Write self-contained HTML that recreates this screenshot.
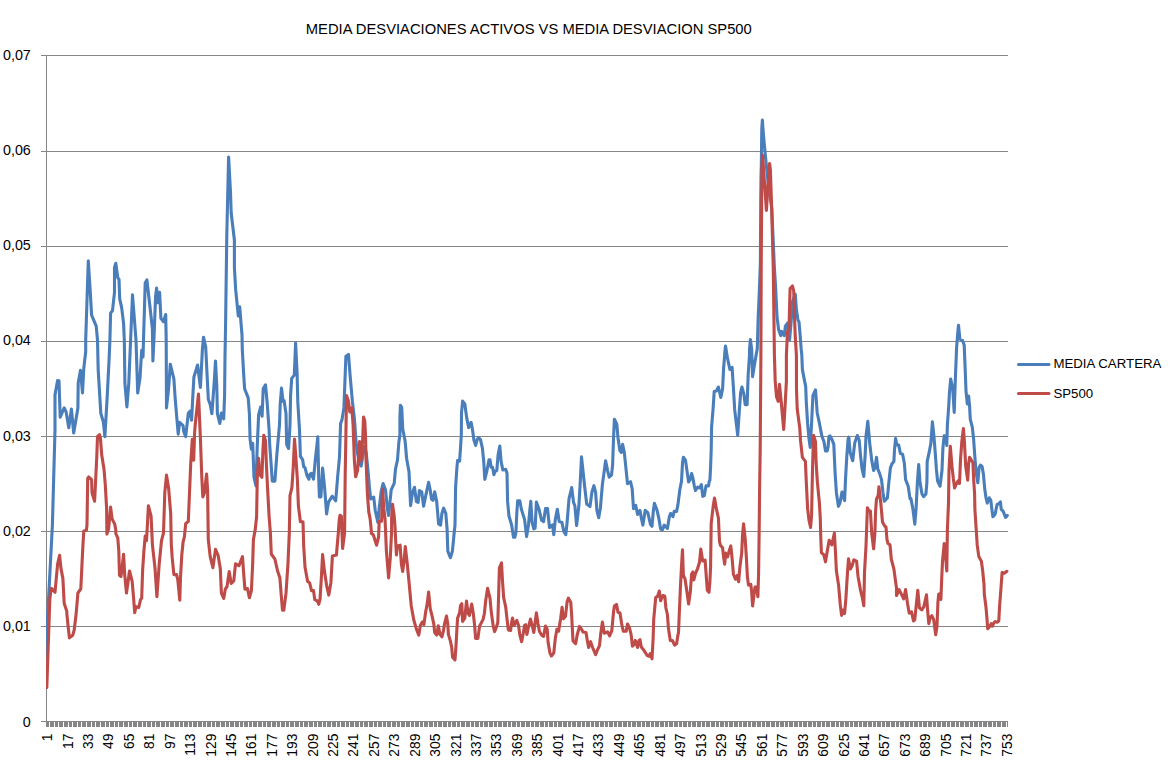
<!DOCTYPE html>
<html><head><meta charset="utf-8"><title>MEDIA DESVIACIONES ACTIVOS VS MEDIA DESVIACION SP500</title>
<style>
html,body{margin:0;padding:0;background:#fff;}
body{width:1176px;height:765px;overflow:hidden;}
svg{display:block;font-family:"Liberation Sans",sans-serif;}
</style></head><body>
<svg width="1176" height="765" viewBox="0 0 1176 765">
<rect width="1176" height="765" fill="#fff"/>

<g stroke="#868686" stroke-width="1" shape-rendering="crispEdges">
<line x1="46.0" y1="626.5" x2="1008.0" y2="626.5"/>
<line x1="46.0" y1="531.5" x2="1008.0" y2="531.5"/>
<line x1="46.0" y1="436.5" x2="1008.0" y2="436.5"/>
<line x1="46.0" y1="341.5" x2="1008.0" y2="341.5"/>
<line x1="46.0" y1="246.5" x2="1008.0" y2="246.5"/>
<line x1="46.0" y1="151.5" x2="1008.0" y2="151.5"/>
<line x1="46.0" y1="55.5" x2="1008.0" y2="55.5"/>
<line x1="46.5" y1="55" x2="46.5" y2="722"/>
<line x1="41.0" y1="721.5" x2="46.0" y2="721.5"/>
<line x1="41.0" y1="626.5" x2="46.0" y2="626.5"/>
<line x1="41.0" y1="531.5" x2="46.0" y2="531.5"/>
<line x1="41.0" y1="436.5" x2="46.0" y2="436.5"/>
<line x1="41.0" y1="341.5" x2="46.0" y2="341.5"/>
<line x1="41.0" y1="246.5" x2="46.0" y2="246.5"/>
<line x1="41.0" y1="151.5" x2="46.0" y2="151.5"/>
<line x1="41.0" y1="55.5" x2="46.0" y2="55.5"/>
<line x1="46.0" y1="721.5" x2="1008.0" y2="721.5"/>
</g>
<g fill="#868686" shape-rendering="crispEdges">
<rect x="46" y="721" width="1" height="6"/>
<rect x="47" y="721" width="1" height="6"/>
<rect x="48" y="721" width="1" height="6"/>
<rect x="50" y="721" width="1" height="6"/>
<rect x="51" y="721" width="1" height="6"/>
<rect x="52" y="721" width="1" height="6"/>
<rect x="53" y="721" width="1" height="6"/>
<rect x="55" y="721" width="1" height="6"/>
<rect x="56" y="721" width="1" height="6"/>
<rect x="57" y="721" width="1" height="6"/>
<rect x="59" y="721" width="1" height="6"/>
<rect x="60" y="721" width="1" height="6"/>
<rect x="61" y="721" width="1" height="6"/>
<rect x="62" y="721" width="1" height="6"/>
<rect x="64" y="721" width="1" height="6"/>
<rect x="65" y="721" width="1" height="6"/>
<rect x="66" y="721" width="1" height="6"/>
<rect x="67" y="721" width="1" height="6"/>
<rect x="69" y="721" width="1" height="6"/>
<rect x="70" y="721" width="1" height="6"/>
<rect x="71" y="721" width="1" height="6"/>
<rect x="73" y="721" width="1" height="6"/>
<rect x="74" y="721" width="1" height="6"/>
<rect x="75" y="721" width="1" height="6"/>
<rect x="76" y="721" width="1" height="6"/>
<rect x="78" y="721" width="1" height="6"/>
<rect x="79" y="721" width="1" height="6"/>
<rect x="80" y="721" width="1" height="6"/>
<rect x="82" y="721" width="1" height="6"/>
<rect x="83" y="721" width="1" height="6"/>
<rect x="84" y="721" width="1" height="6"/>
<rect x="85" y="721" width="1" height="6"/>
<rect x="87" y="721" width="1" height="6"/>
<rect x="88" y="721" width="1" height="6"/>
<rect x="89" y="721" width="1" height="6"/>
<rect x="90" y="721" width="1" height="6"/>
<rect x="92" y="721" width="1" height="6"/>
<rect x="93" y="721" width="1" height="6"/>
<rect x="94" y="721" width="1" height="6"/>
<rect x="96" y="721" width="1" height="6"/>
<rect x="97" y="721" width="1" height="6"/>
<rect x="98" y="721" width="1" height="6"/>
<rect x="99" y="721" width="1" height="6"/>
<rect x="101" y="721" width="1" height="6"/>
<rect x="102" y="721" width="1" height="6"/>
<rect x="103" y="721" width="1" height="6"/>
<rect x="104" y="721" width="1" height="6"/>
<rect x="106" y="721" width="1" height="6"/>
<rect x="107" y="721" width="1" height="6"/>
<rect x="108" y="721" width="1" height="6"/>
<rect x="110" y="721" width="1" height="6"/>
<rect x="111" y="721" width="1" height="6"/>
<rect x="112" y="721" width="1" height="6"/>
<rect x="113" y="721" width="1" height="6"/>
<rect x="115" y="721" width="1" height="6"/>
<rect x="116" y="721" width="1" height="6"/>
<rect x="117" y="721" width="1" height="6"/>
<rect x="119" y="721" width="1" height="6"/>
<rect x="120" y="721" width="1" height="6"/>
<rect x="121" y="721" width="1" height="6"/>
<rect x="122" y="721" width="1" height="6"/>
<rect x="124" y="721" width="1" height="6"/>
<rect x="125" y="721" width="1" height="6"/>
<rect x="126" y="721" width="1" height="6"/>
<rect x="127" y="721" width="1" height="6"/>
<rect x="129" y="721" width="1" height="6"/>
<rect x="130" y="721" width="1" height="6"/>
<rect x="131" y="721" width="1" height="6"/>
<rect x="133" y="721" width="1" height="6"/>
<rect x="134" y="721" width="1" height="6"/>
<rect x="135" y="721" width="1" height="6"/>
<rect x="136" y="721" width="1" height="6"/>
<rect x="138" y="721" width="1" height="6"/>
<rect x="139" y="721" width="1" height="6"/>
<rect x="140" y="721" width="1" height="6"/>
<rect x="141" y="721" width="1" height="6"/>
<rect x="143" y="721" width="1" height="6"/>
<rect x="144" y="721" width="1" height="6"/>
<rect x="145" y="721" width="1" height="6"/>
<rect x="147" y="721" width="1" height="6"/>
<rect x="148" y="721" width="1" height="6"/>
<rect x="149" y="721" width="1" height="6"/>
<rect x="150" y="721" width="1" height="6"/>
<rect x="152" y="721" width="1" height="6"/>
<rect x="153" y="721" width="1" height="6"/>
<rect x="154" y="721" width="1" height="6"/>
<rect x="156" y="721" width="1" height="6"/>
<rect x="157" y="721" width="1" height="6"/>
<rect x="158" y="721" width="1" height="6"/>
<rect x="159" y="721" width="1" height="6"/>
<rect x="161" y="721" width="1" height="6"/>
<rect x="162" y="721" width="1" height="6"/>
<rect x="163" y="721" width="1" height="6"/>
<rect x="164" y="721" width="1" height="6"/>
<rect x="166" y="721" width="1" height="6"/>
<rect x="167" y="721" width="1" height="6"/>
<rect x="168" y="721" width="1" height="6"/>
<rect x="170" y="721" width="1" height="6"/>
<rect x="171" y="721" width="1" height="6"/>
<rect x="172" y="721" width="1" height="6"/>
<rect x="173" y="721" width="1" height="6"/>
<rect x="175" y="721" width="1" height="6"/>
<rect x="176" y="721" width="1" height="6"/>
<rect x="177" y="721" width="1" height="6"/>
<rect x="178" y="721" width="1" height="6"/>
<rect x="180" y="721" width="1" height="6"/>
<rect x="181" y="721" width="1" height="6"/>
<rect x="182" y="721" width="1" height="6"/>
<rect x="184" y="721" width="1" height="6"/>
<rect x="185" y="721" width="1" height="6"/>
<rect x="186" y="721" width="1" height="6"/>
<rect x="187" y="721" width="1" height="6"/>
<rect x="189" y="721" width="1" height="6"/>
<rect x="190" y="721" width="1" height="6"/>
<rect x="191" y="721" width="1" height="6"/>
<rect x="193" y="721" width="1" height="6"/>
<rect x="194" y="721" width="1" height="6"/>
<rect x="195" y="721" width="1" height="6"/>
<rect x="196" y="721" width="1" height="6"/>
<rect x="198" y="721" width="1" height="6"/>
<rect x="199" y="721" width="1" height="6"/>
<rect x="200" y="721" width="1" height="6"/>
<rect x="201" y="721" width="1" height="6"/>
<rect x="203" y="721" width="1" height="6"/>
<rect x="204" y="721" width="1" height="6"/>
<rect x="205" y="721" width="1" height="6"/>
<rect x="207" y="721" width="1" height="6"/>
<rect x="208" y="721" width="1" height="6"/>
<rect x="209" y="721" width="1" height="6"/>
<rect x="210" y="721" width="1" height="6"/>
<rect x="212" y="721" width="1" height="6"/>
<rect x="213" y="721" width="1" height="6"/>
<rect x="214" y="721" width="1" height="6"/>
<rect x="216" y="721" width="1" height="6"/>
<rect x="217" y="721" width="1" height="6"/>
<rect x="218" y="721" width="1" height="6"/>
<rect x="219" y="721" width="1" height="6"/>
<rect x="221" y="721" width="1" height="6"/>
<rect x="222" y="721" width="1" height="6"/>
<rect x="223" y="721" width="1" height="6"/>
<rect x="224" y="721" width="1" height="6"/>
<rect x="226" y="721" width="1" height="6"/>
<rect x="227" y="721" width="1" height="6"/>
<rect x="228" y="721" width="1" height="6"/>
<rect x="230" y="721" width="1" height="6"/>
<rect x="231" y="721" width="1" height="6"/>
<rect x="232" y="721" width="1" height="6"/>
<rect x="233" y="721" width="1" height="6"/>
<rect x="235" y="721" width="1" height="6"/>
<rect x="236" y="721" width="1" height="6"/>
<rect x="237" y="721" width="1" height="6"/>
<rect x="238" y="721" width="1" height="6"/>
<rect x="240" y="721" width="1" height="6"/>
<rect x="241" y="721" width="1" height="6"/>
<rect x="242" y="721" width="1" height="6"/>
<rect x="244" y="721" width="1" height="6"/>
<rect x="245" y="721" width="1" height="6"/>
<rect x="246" y="721" width="1" height="6"/>
<rect x="247" y="721" width="1" height="6"/>
<rect x="249" y="721" width="1" height="6"/>
<rect x="250" y="721" width="1" height="6"/>
<rect x="251" y="721" width="1" height="6"/>
<rect x="253" y="721" width="1" height="6"/>
<rect x="254" y="721" width="1" height="6"/>
<rect x="255" y="721" width="1" height="6"/>
<rect x="256" y="721" width="1" height="6"/>
<rect x="258" y="721" width="1" height="6"/>
<rect x="259" y="721" width="1" height="6"/>
<rect x="260" y="721" width="1" height="6"/>
<rect x="261" y="721" width="1" height="6"/>
<rect x="263" y="721" width="1" height="6"/>
<rect x="264" y="721" width="1" height="6"/>
<rect x="265" y="721" width="1" height="6"/>
<rect x="267" y="721" width="1" height="6"/>
<rect x="268" y="721" width="1" height="6"/>
<rect x="269" y="721" width="1" height="6"/>
<rect x="270" y="721" width="1" height="6"/>
<rect x="272" y="721" width="1" height="6"/>
<rect x="273" y="721" width="1" height="6"/>
<rect x="274" y="721" width="1" height="6"/>
<rect x="275" y="721" width="1" height="6"/>
<rect x="277" y="721" width="1" height="6"/>
<rect x="278" y="721" width="1" height="6"/>
<rect x="279" y="721" width="1" height="6"/>
<rect x="281" y="721" width="1" height="6"/>
<rect x="282" y="721" width="1" height="6"/>
<rect x="283" y="721" width="1" height="6"/>
<rect x="284" y="721" width="1" height="6"/>
<rect x="286" y="721" width="1" height="6"/>
<rect x="287" y="721" width="1" height="6"/>
<rect x="288" y="721" width="1" height="6"/>
<rect x="290" y="721" width="1" height="6"/>
<rect x="291" y="721" width="1" height="6"/>
<rect x="292" y="721" width="1" height="6"/>
<rect x="293" y="721" width="1" height="6"/>
<rect x="295" y="721" width="1" height="6"/>
<rect x="296" y="721" width="1" height="6"/>
<rect x="297" y="721" width="1" height="6"/>
<rect x="298" y="721" width="1" height="6"/>
<rect x="300" y="721" width="1" height="6"/>
<rect x="301" y="721" width="1" height="6"/>
<rect x="302" y="721" width="1" height="6"/>
<rect x="304" y="721" width="1" height="6"/>
<rect x="305" y="721" width="1" height="6"/>
<rect x="306" y="721" width="1" height="6"/>
<rect x="307" y="721" width="1" height="6"/>
<rect x="309" y="721" width="1" height="6"/>
<rect x="310" y="721" width="1" height="6"/>
<rect x="311" y="721" width="1" height="6"/>
<rect x="312" y="721" width="1" height="6"/>
<rect x="314" y="721" width="1" height="6"/>
<rect x="315" y="721" width="1" height="6"/>
<rect x="316" y="721" width="1" height="6"/>
<rect x="318" y="721" width="1" height="6"/>
<rect x="319" y="721" width="1" height="6"/>
<rect x="320" y="721" width="1" height="6"/>
<rect x="321" y="721" width="1" height="6"/>
<rect x="323" y="721" width="1" height="6"/>
<rect x="324" y="721" width="1" height="6"/>
<rect x="325" y="721" width="1" height="6"/>
<rect x="327" y="721" width="1" height="6"/>
<rect x="328" y="721" width="1" height="6"/>
<rect x="329" y="721" width="1" height="6"/>
<rect x="330" y="721" width="1" height="6"/>
<rect x="332" y="721" width="1" height="6"/>
<rect x="333" y="721" width="1" height="6"/>
<rect x="334" y="721" width="1" height="6"/>
<rect x="335" y="721" width="1" height="6"/>
<rect x="337" y="721" width="1" height="6"/>
<rect x="338" y="721" width="1" height="6"/>
<rect x="339" y="721" width="1" height="6"/>
<rect x="341" y="721" width="1" height="6"/>
<rect x="342" y="721" width="1" height="6"/>
<rect x="343" y="721" width="1" height="6"/>
<rect x="344" y="721" width="1" height="6"/>
<rect x="346" y="721" width="1" height="6"/>
<rect x="347" y="721" width="1" height="6"/>
<rect x="348" y="721" width="1" height="6"/>
<rect x="350" y="721" width="1" height="6"/>
<rect x="351" y="721" width="1" height="6"/>
<rect x="352" y="721" width="1" height="6"/>
<rect x="353" y="721" width="1" height="6"/>
<rect x="355" y="721" width="1" height="6"/>
<rect x="356" y="721" width="1" height="6"/>
<rect x="357" y="721" width="1" height="6"/>
<rect x="358" y="721" width="1" height="6"/>
<rect x="360" y="721" width="1" height="6"/>
<rect x="361" y="721" width="1" height="6"/>
<rect x="362" y="721" width="1" height="6"/>
<rect x="364" y="721" width="1" height="6"/>
<rect x="365" y="721" width="1" height="6"/>
<rect x="366" y="721" width="1" height="6"/>
<rect x="367" y="721" width="1" height="6"/>
<rect x="369" y="721" width="1" height="6"/>
<rect x="370" y="721" width="1" height="6"/>
<rect x="371" y="721" width="1" height="6"/>
<rect x="372" y="721" width="1" height="6"/>
<rect x="374" y="721" width="1" height="6"/>
<rect x="375" y="721" width="1" height="6"/>
<rect x="376" y="721" width="1" height="6"/>
<rect x="378" y="721" width="1" height="6"/>
<rect x="379" y="721" width="1" height="6"/>
<rect x="380" y="721" width="1" height="6"/>
<rect x="381" y="721" width="1" height="6"/>
<rect x="383" y="721" width="1" height="6"/>
<rect x="384" y="721" width="1" height="6"/>
<rect x="385" y="721" width="1" height="6"/>
<rect x="387" y="721" width="1" height="6"/>
<rect x="388" y="721" width="1" height="6"/>
<rect x="389" y="721" width="1" height="6"/>
<rect x="390" y="721" width="1" height="6"/>
<rect x="392" y="721" width="1" height="6"/>
<rect x="393" y="721" width="1" height="6"/>
<rect x="394" y="721" width="1" height="6"/>
<rect x="395" y="721" width="1" height="6"/>
<rect x="397" y="721" width="1" height="6"/>
<rect x="398" y="721" width="1" height="6"/>
<rect x="399" y="721" width="1" height="6"/>
<rect x="401" y="721" width="1" height="6"/>
<rect x="402" y="721" width="1" height="6"/>
<rect x="403" y="721" width="1" height="6"/>
<rect x="404" y="721" width="1" height="6"/>
<rect x="406" y="721" width="1" height="6"/>
<rect x="407" y="721" width="1" height="6"/>
<rect x="408" y="721" width="1" height="6"/>
<rect x="409" y="721" width="1" height="6"/>
<rect x="411" y="721" width="1" height="6"/>
<rect x="412" y="721" width="1" height="6"/>
<rect x="413" y="721" width="1" height="6"/>
<rect x="415" y="721" width="1" height="6"/>
<rect x="416" y="721" width="1" height="6"/>
<rect x="417" y="721" width="1" height="6"/>
<rect x="418" y="721" width="1" height="6"/>
<rect x="420" y="721" width="1" height="6"/>
<rect x="421" y="721" width="1" height="6"/>
<rect x="422" y="721" width="1" height="6"/>
<rect x="424" y="721" width="1" height="6"/>
<rect x="425" y="721" width="1" height="6"/>
<rect x="426" y="721" width="1" height="6"/>
<rect x="427" y="721" width="1" height="6"/>
<rect x="429" y="721" width="1" height="6"/>
<rect x="430" y="721" width="1" height="6"/>
<rect x="431" y="721" width="1" height="6"/>
<rect x="432" y="721" width="1" height="6"/>
<rect x="434" y="721" width="1" height="6"/>
<rect x="435" y="721" width="1" height="6"/>
<rect x="436" y="721" width="1" height="6"/>
<rect x="438" y="721" width="1" height="6"/>
<rect x="439" y="721" width="1" height="6"/>
<rect x="440" y="721" width="1" height="6"/>
<rect x="441" y="721" width="1" height="6"/>
<rect x="443" y="721" width="1" height="6"/>
<rect x="444" y="721" width="1" height="6"/>
<rect x="445" y="721" width="1" height="6"/>
<rect x="446" y="721" width="1" height="6"/>
<rect x="448" y="721" width="1" height="6"/>
<rect x="449" y="721" width="1" height="6"/>
<rect x="450" y="721" width="1" height="6"/>
<rect x="452" y="721" width="1" height="6"/>
<rect x="453" y="721" width="1" height="6"/>
<rect x="454" y="721" width="1" height="6"/>
<rect x="455" y="721" width="1" height="6"/>
<rect x="457" y="721" width="1" height="6"/>
<rect x="458" y="721" width="1" height="6"/>
<rect x="459" y="721" width="1" height="6"/>
<rect x="461" y="721" width="1" height="6"/>
<rect x="462" y="721" width="1" height="6"/>
<rect x="463" y="721" width="1" height="6"/>
<rect x="464" y="721" width="1" height="6"/>
<rect x="466" y="721" width="1" height="6"/>
<rect x="467" y="721" width="1" height="6"/>
<rect x="468" y="721" width="1" height="6"/>
<rect x="469" y="721" width="1" height="6"/>
<rect x="471" y="721" width="1" height="6"/>
<rect x="472" y="721" width="1" height="6"/>
<rect x="473" y="721" width="1" height="6"/>
<rect x="475" y="721" width="1" height="6"/>
<rect x="476" y="721" width="1" height="6"/>
<rect x="477" y="721" width="1" height="6"/>
<rect x="478" y="721" width="1" height="6"/>
<rect x="480" y="721" width="1" height="6"/>
<rect x="481" y="721" width="1" height="6"/>
<rect x="482" y="721" width="1" height="6"/>
<rect x="484" y="721" width="1" height="6"/>
<rect x="485" y="721" width="1" height="6"/>
<rect x="486" y="721" width="1" height="6"/>
<rect x="487" y="721" width="1" height="6"/>
<rect x="489" y="721" width="1" height="6"/>
<rect x="490" y="721" width="1" height="6"/>
<rect x="491" y="721" width="1" height="6"/>
<rect x="492" y="721" width="1" height="6"/>
<rect x="494" y="721" width="1" height="6"/>
<rect x="495" y="721" width="1" height="6"/>
<rect x="496" y="721" width="1" height="6"/>
<rect x="498" y="721" width="1" height="6"/>
<rect x="499" y="721" width="1" height="6"/>
<rect x="500" y="721" width="1" height="6"/>
<rect x="501" y="721" width="1" height="6"/>
<rect x="503" y="721" width="1" height="6"/>
<rect x="504" y="721" width="1" height="6"/>
<rect x="505" y="721" width="1" height="6"/>
<rect x="506" y="721" width="1" height="6"/>
<rect x="508" y="721" width="1" height="6"/>
<rect x="509" y="721" width="1" height="6"/>
<rect x="510" y="721" width="1" height="6"/>
<rect x="512" y="721" width="1" height="6"/>
<rect x="513" y="721" width="1" height="6"/>
<rect x="514" y="721" width="1" height="6"/>
<rect x="515" y="721" width="1" height="6"/>
<rect x="517" y="721" width="1" height="6"/>
<rect x="518" y="721" width="1" height="6"/>
<rect x="519" y="721" width="1" height="6"/>
<rect x="521" y="721" width="1" height="6"/>
<rect x="522" y="721" width="1" height="6"/>
<rect x="523" y="721" width="1" height="6"/>
<rect x="524" y="721" width="1" height="6"/>
<rect x="526" y="721" width="1" height="6"/>
<rect x="527" y="721" width="1" height="6"/>
<rect x="528" y="721" width="1" height="6"/>
<rect x="529" y="721" width="1" height="6"/>
<rect x="531" y="721" width="1" height="6"/>
<rect x="532" y="721" width="1" height="6"/>
<rect x="533" y="721" width="1" height="6"/>
<rect x="535" y="721" width="1" height="6"/>
<rect x="536" y="721" width="1" height="6"/>
<rect x="537" y="721" width="1" height="6"/>
<rect x="538" y="721" width="1" height="6"/>
<rect x="540" y="721" width="1" height="6"/>
<rect x="541" y="721" width="1" height="6"/>
<rect x="542" y="721" width="1" height="6"/>
<rect x="543" y="721" width="1" height="6"/>
<rect x="545" y="721" width="1" height="6"/>
<rect x="546" y="721" width="1" height="6"/>
<rect x="547" y="721" width="1" height="6"/>
<rect x="549" y="721" width="1" height="6"/>
<rect x="550" y="721" width="1" height="6"/>
<rect x="551" y="721" width="1" height="6"/>
<rect x="552" y="721" width="1" height="6"/>
<rect x="554" y="721" width="1" height="6"/>
<rect x="555" y="721" width="1" height="6"/>
<rect x="556" y="721" width="1" height="6"/>
<rect x="558" y="721" width="1" height="6"/>
<rect x="559" y="721" width="1" height="6"/>
<rect x="560" y="721" width="1" height="6"/>
<rect x="561" y="721" width="1" height="6"/>
<rect x="563" y="721" width="1" height="6"/>
<rect x="564" y="721" width="1" height="6"/>
<rect x="565" y="721" width="1" height="6"/>
<rect x="566" y="721" width="1" height="6"/>
<rect x="568" y="721" width="1" height="6"/>
<rect x="569" y="721" width="1" height="6"/>
<rect x="570" y="721" width="1" height="6"/>
<rect x="572" y="721" width="1" height="6"/>
<rect x="573" y="721" width="1" height="6"/>
<rect x="574" y="721" width="1" height="6"/>
<rect x="575" y="721" width="1" height="6"/>
<rect x="577" y="721" width="1" height="6"/>
<rect x="578" y="721" width="1" height="6"/>
<rect x="579" y="721" width="1" height="6"/>
<rect x="580" y="721" width="1" height="6"/>
<rect x="582" y="721" width="1" height="6"/>
<rect x="583" y="721" width="1" height="6"/>
<rect x="584" y="721" width="1" height="6"/>
<rect x="586" y="721" width="1" height="6"/>
<rect x="587" y="721" width="1" height="6"/>
<rect x="588" y="721" width="1" height="6"/>
<rect x="589" y="721" width="1" height="6"/>
<rect x="591" y="721" width="1" height="6"/>
<rect x="592" y="721" width="1" height="6"/>
<rect x="593" y="721" width="1" height="6"/>
<rect x="595" y="721" width="1" height="6"/>
<rect x="596" y="721" width="1" height="6"/>
<rect x="597" y="721" width="1" height="6"/>
<rect x="598" y="721" width="1" height="6"/>
<rect x="600" y="721" width="1" height="6"/>
<rect x="601" y="721" width="1" height="6"/>
<rect x="602" y="721" width="1" height="6"/>
<rect x="603" y="721" width="1" height="6"/>
<rect x="605" y="721" width="1" height="6"/>
<rect x="606" y="721" width="1" height="6"/>
<rect x="607" y="721" width="1" height="6"/>
<rect x="609" y="721" width="1" height="6"/>
<rect x="610" y="721" width="1" height="6"/>
<rect x="611" y="721" width="1" height="6"/>
<rect x="612" y="721" width="1" height="6"/>
<rect x="614" y="721" width="1" height="6"/>
<rect x="615" y="721" width="1" height="6"/>
<rect x="616" y="721" width="1" height="6"/>
<rect x="618" y="721" width="1" height="6"/>
<rect x="619" y="721" width="1" height="6"/>
<rect x="620" y="721" width="1" height="6"/>
<rect x="621" y="721" width="1" height="6"/>
<rect x="623" y="721" width="1" height="6"/>
<rect x="624" y="721" width="1" height="6"/>
<rect x="625" y="721" width="1" height="6"/>
<rect x="626" y="721" width="1" height="6"/>
<rect x="628" y="721" width="1" height="6"/>
<rect x="629" y="721" width="1" height="6"/>
<rect x="630" y="721" width="1" height="6"/>
<rect x="632" y="721" width="1" height="6"/>
<rect x="633" y="721" width="1" height="6"/>
<rect x="634" y="721" width="1" height="6"/>
<rect x="635" y="721" width="1" height="6"/>
<rect x="637" y="721" width="1" height="6"/>
<rect x="638" y="721" width="1" height="6"/>
<rect x="639" y="721" width="1" height="6"/>
<rect x="640" y="721" width="1" height="6"/>
<rect x="642" y="721" width="1" height="6"/>
<rect x="643" y="721" width="1" height="6"/>
<rect x="644" y="721" width="1" height="6"/>
<rect x="646" y="721" width="1" height="6"/>
<rect x="647" y="721" width="1" height="6"/>
<rect x="648" y="721" width="1" height="6"/>
<rect x="649" y="721" width="1" height="6"/>
<rect x="651" y="721" width="1" height="6"/>
<rect x="652" y="721" width="1" height="6"/>
<rect x="653" y="721" width="1" height="6"/>
<rect x="655" y="721" width="1" height="6"/>
<rect x="656" y="721" width="1" height="6"/>
<rect x="657" y="721" width="1" height="6"/>
<rect x="658" y="721" width="1" height="6"/>
<rect x="660" y="721" width="1" height="6"/>
<rect x="661" y="721" width="1" height="6"/>
<rect x="662" y="721" width="1" height="6"/>
<rect x="663" y="721" width="1" height="6"/>
<rect x="665" y="721" width="1" height="6"/>
<rect x="666" y="721" width="1" height="6"/>
<rect x="667" y="721" width="1" height="6"/>
<rect x="669" y="721" width="1" height="6"/>
<rect x="670" y="721" width="1" height="6"/>
<rect x="671" y="721" width="1" height="6"/>
<rect x="672" y="721" width="1" height="6"/>
<rect x="674" y="721" width="1" height="6"/>
<rect x="675" y="721" width="1" height="6"/>
<rect x="676" y="721" width="1" height="6"/>
<rect x="677" y="721" width="1" height="6"/>
<rect x="679" y="721" width="1" height="6"/>
<rect x="680" y="721" width="1" height="6"/>
<rect x="681" y="721" width="1" height="6"/>
<rect x="683" y="721" width="1" height="6"/>
<rect x="684" y="721" width="1" height="6"/>
<rect x="685" y="721" width="1" height="6"/>
<rect x="686" y="721" width="1" height="6"/>
<rect x="688" y="721" width="1" height="6"/>
<rect x="689" y="721" width="1" height="6"/>
<rect x="690" y="721" width="1" height="6"/>
<rect x="692" y="721" width="1" height="6"/>
<rect x="693" y="721" width="1" height="6"/>
<rect x="694" y="721" width="1" height="6"/>
<rect x="695" y="721" width="1" height="6"/>
<rect x="697" y="721" width="1" height="6"/>
<rect x="698" y="721" width="1" height="6"/>
<rect x="699" y="721" width="1" height="6"/>
<rect x="700" y="721" width="1" height="6"/>
<rect x="702" y="721" width="1" height="6"/>
<rect x="703" y="721" width="1" height="6"/>
<rect x="704" y="721" width="1" height="6"/>
<rect x="706" y="721" width="1" height="6"/>
<rect x="707" y="721" width="1" height="6"/>
<rect x="708" y="721" width="1" height="6"/>
<rect x="709" y="721" width="1" height="6"/>
<rect x="711" y="721" width="1" height="6"/>
<rect x="712" y="721" width="1" height="6"/>
<rect x="713" y="721" width="1" height="6"/>
<rect x="714" y="721" width="1" height="6"/>
<rect x="716" y="721" width="1" height="6"/>
<rect x="717" y="721" width="1" height="6"/>
<rect x="718" y="721" width="1" height="6"/>
<rect x="720" y="721" width="1" height="6"/>
<rect x="721" y="721" width="1" height="6"/>
<rect x="722" y="721" width="1" height="6"/>
<rect x="723" y="721" width="1" height="6"/>
<rect x="725" y="721" width="1" height="6"/>
<rect x="726" y="721" width="1" height="6"/>
<rect x="727" y="721" width="1" height="6"/>
<rect x="729" y="721" width="1" height="6"/>
<rect x="730" y="721" width="1" height="6"/>
<rect x="731" y="721" width="1" height="6"/>
<rect x="732" y="721" width="1" height="6"/>
<rect x="734" y="721" width="1" height="6"/>
<rect x="735" y="721" width="1" height="6"/>
<rect x="736" y="721" width="1" height="6"/>
<rect x="737" y="721" width="1" height="6"/>
<rect x="739" y="721" width="1" height="6"/>
<rect x="740" y="721" width="1" height="6"/>
<rect x="741" y="721" width="1" height="6"/>
<rect x="743" y="721" width="1" height="6"/>
<rect x="744" y="721" width="1" height="6"/>
<rect x="745" y="721" width="1" height="6"/>
<rect x="746" y="721" width="1" height="6"/>
<rect x="748" y="721" width="1" height="6"/>
<rect x="749" y="721" width="1" height="6"/>
<rect x="750" y="721" width="1" height="6"/>
<rect x="752" y="721" width="1" height="6"/>
<rect x="753" y="721" width="1" height="6"/>
<rect x="754" y="721" width="1" height="6"/>
<rect x="755" y="721" width="1" height="6"/>
<rect x="757" y="721" width="1" height="6"/>
<rect x="758" y="721" width="1" height="6"/>
<rect x="759" y="721" width="1" height="6"/>
<rect x="760" y="721" width="1" height="6"/>
<rect x="762" y="721" width="1" height="6"/>
<rect x="763" y="721" width="1" height="6"/>
<rect x="764" y="721" width="1" height="6"/>
<rect x="766" y="721" width="1" height="6"/>
<rect x="767" y="721" width="1" height="6"/>
<rect x="768" y="721" width="1" height="6"/>
<rect x="769" y="721" width="1" height="6"/>
<rect x="771" y="721" width="1" height="6"/>
<rect x="772" y="721" width="1" height="6"/>
<rect x="773" y="721" width="1" height="6"/>
<rect x="774" y="721" width="1" height="6"/>
<rect x="776" y="721" width="1" height="6"/>
<rect x="777" y="721" width="1" height="6"/>
<rect x="778" y="721" width="1" height="6"/>
<rect x="780" y="721" width="1" height="6"/>
<rect x="781" y="721" width="1" height="6"/>
<rect x="782" y="721" width="1" height="6"/>
<rect x="783" y="721" width="1" height="6"/>
<rect x="785" y="721" width="1" height="6"/>
<rect x="786" y="721" width="1" height="6"/>
<rect x="787" y="721" width="1" height="6"/>
<rect x="789" y="721" width="1" height="6"/>
<rect x="790" y="721" width="1" height="6"/>
<rect x="791" y="721" width="1" height="6"/>
<rect x="792" y="721" width="1" height="6"/>
<rect x="794" y="721" width="1" height="6"/>
<rect x="795" y="721" width="1" height="6"/>
<rect x="796" y="721" width="1" height="6"/>
<rect x="797" y="721" width="1" height="6"/>
<rect x="799" y="721" width="1" height="6"/>
<rect x="800" y="721" width="1" height="6"/>
<rect x="801" y="721" width="1" height="6"/>
<rect x="803" y="721" width="1" height="6"/>
<rect x="804" y="721" width="1" height="6"/>
<rect x="805" y="721" width="1" height="6"/>
<rect x="806" y="721" width="1" height="6"/>
<rect x="808" y="721" width="1" height="6"/>
<rect x="809" y="721" width="1" height="6"/>
<rect x="810" y="721" width="1" height="6"/>
<rect x="811" y="721" width="1" height="6"/>
<rect x="813" y="721" width="1" height="6"/>
<rect x="814" y="721" width="1" height="6"/>
<rect x="815" y="721" width="1" height="6"/>
<rect x="817" y="721" width="1" height="6"/>
<rect x="818" y="721" width="1" height="6"/>
<rect x="819" y="721" width="1" height="6"/>
<rect x="820" y="721" width="1" height="6"/>
<rect x="822" y="721" width="1" height="6"/>
<rect x="823" y="721" width="1" height="6"/>
<rect x="824" y="721" width="1" height="6"/>
<rect x="826" y="721" width="1" height="6"/>
<rect x="827" y="721" width="1" height="6"/>
<rect x="828" y="721" width="1" height="6"/>
<rect x="829" y="721" width="1" height="6"/>
<rect x="831" y="721" width="1" height="6"/>
<rect x="832" y="721" width="1" height="6"/>
<rect x="833" y="721" width="1" height="6"/>
<rect x="834" y="721" width="1" height="6"/>
<rect x="836" y="721" width="1" height="6"/>
<rect x="837" y="721" width="1" height="6"/>
<rect x="838" y="721" width="1" height="6"/>
<rect x="840" y="721" width="1" height="6"/>
<rect x="841" y="721" width="1" height="6"/>
<rect x="842" y="721" width="1" height="6"/>
<rect x="843" y="721" width="1" height="6"/>
<rect x="845" y="721" width="1" height="6"/>
<rect x="846" y="721" width="1" height="6"/>
<rect x="847" y="721" width="1" height="6"/>
<rect x="848" y="721" width="1" height="6"/>
<rect x="850" y="721" width="1" height="6"/>
<rect x="851" y="721" width="1" height="6"/>
<rect x="852" y="721" width="1" height="6"/>
<rect x="854" y="721" width="1" height="6"/>
<rect x="855" y="721" width="1" height="6"/>
<rect x="856" y="721" width="1" height="6"/>
<rect x="857" y="721" width="1" height="6"/>
<rect x="859" y="721" width="1" height="6"/>
<rect x="860" y="721" width="1" height="6"/>
<rect x="861" y="721" width="1" height="6"/>
<rect x="863" y="721" width="1" height="6"/>
<rect x="864" y="721" width="1" height="6"/>
<rect x="865" y="721" width="1" height="6"/>
<rect x="866" y="721" width="1" height="6"/>
<rect x="868" y="721" width="1" height="6"/>
<rect x="869" y="721" width="1" height="6"/>
<rect x="870" y="721" width="1" height="6"/>
<rect x="871" y="721" width="1" height="6"/>
<rect x="873" y="721" width="1" height="6"/>
<rect x="874" y="721" width="1" height="6"/>
<rect x="875" y="721" width="1" height="6"/>
<rect x="877" y="721" width="1" height="6"/>
<rect x="878" y="721" width="1" height="6"/>
<rect x="879" y="721" width="1" height="6"/>
<rect x="880" y="721" width="1" height="6"/>
<rect x="882" y="721" width="1" height="6"/>
<rect x="883" y="721" width="1" height="6"/>
<rect x="884" y="721" width="1" height="6"/>
<rect x="886" y="721" width="1" height="6"/>
<rect x="887" y="721" width="1" height="6"/>
<rect x="888" y="721" width="1" height="6"/>
<rect x="889" y="721" width="1" height="6"/>
<rect x="891" y="721" width="1" height="6"/>
<rect x="892" y="721" width="1" height="6"/>
<rect x="893" y="721" width="1" height="6"/>
<rect x="894" y="721" width="1" height="6"/>
<rect x="896" y="721" width="1" height="6"/>
<rect x="897" y="721" width="1" height="6"/>
<rect x="898" y="721" width="1" height="6"/>
<rect x="900" y="721" width="1" height="6"/>
<rect x="901" y="721" width="1" height="6"/>
<rect x="902" y="721" width="1" height="6"/>
<rect x="903" y="721" width="1" height="6"/>
<rect x="905" y="721" width="1" height="6"/>
<rect x="906" y="721" width="1" height="6"/>
<rect x="907" y="721" width="1" height="6"/>
<rect x="908" y="721" width="1" height="6"/>
<rect x="910" y="721" width="1" height="6"/>
<rect x="911" y="721" width="1" height="6"/>
<rect x="912" y="721" width="1" height="6"/>
<rect x="914" y="721" width="1" height="6"/>
<rect x="915" y="721" width="1" height="6"/>
<rect x="916" y="721" width="1" height="6"/>
<rect x="917" y="721" width="1" height="6"/>
<rect x="919" y="721" width="1" height="6"/>
<rect x="920" y="721" width="1" height="6"/>
<rect x="921" y="721" width="1" height="6"/>
<rect x="923" y="721" width="1" height="6"/>
<rect x="924" y="721" width="1" height="6"/>
<rect x="925" y="721" width="1" height="6"/>
<rect x="926" y="721" width="1" height="6"/>
<rect x="928" y="721" width="1" height="6"/>
<rect x="929" y="721" width="1" height="6"/>
<rect x="930" y="721" width="1" height="6"/>
<rect x="931" y="721" width="1" height="6"/>
<rect x="933" y="721" width="1" height="6"/>
<rect x="934" y="721" width="1" height="6"/>
<rect x="935" y="721" width="1" height="6"/>
<rect x="937" y="721" width="1" height="6"/>
<rect x="938" y="721" width="1" height="6"/>
<rect x="939" y="721" width="1" height="6"/>
<rect x="940" y="721" width="1" height="6"/>
<rect x="942" y="721" width="1" height="6"/>
<rect x="943" y="721" width="1" height="6"/>
<rect x="944" y="721" width="1" height="6"/>
<rect x="945" y="721" width="1" height="6"/>
<rect x="947" y="721" width="1" height="6"/>
<rect x="948" y="721" width="1" height="6"/>
<rect x="949" y="721" width="1" height="6"/>
<rect x="951" y="721" width="1" height="6"/>
<rect x="952" y="721" width="1" height="6"/>
<rect x="953" y="721" width="1" height="6"/>
<rect x="954" y="721" width="1" height="6"/>
<rect x="956" y="721" width="1" height="6"/>
<rect x="957" y="721" width="1" height="6"/>
<rect x="958" y="721" width="1" height="6"/>
<rect x="960" y="721" width="1" height="6"/>
<rect x="961" y="721" width="1" height="6"/>
<rect x="962" y="721" width="1" height="6"/>
<rect x="963" y="721" width="1" height="6"/>
<rect x="965" y="721" width="1" height="6"/>
<rect x="966" y="721" width="1" height="6"/>
<rect x="967" y="721" width="1" height="6"/>
<rect x="968" y="721" width="1" height="6"/>
<rect x="970" y="721" width="1" height="6"/>
<rect x="971" y="721" width="1" height="6"/>
<rect x="972" y="721" width="1" height="6"/>
<rect x="974" y="721" width="1" height="6"/>
<rect x="975" y="721" width="1" height="6"/>
<rect x="976" y="721" width="1" height="6"/>
<rect x="977" y="721" width="1" height="6"/>
<rect x="979" y="721" width="1" height="6"/>
<rect x="980" y="721" width="1" height="6"/>
<rect x="981" y="721" width="1" height="6"/>
<rect x="983" y="721" width="1" height="6"/>
<rect x="984" y="721" width="1" height="6"/>
<rect x="985" y="721" width="1" height="6"/>
<rect x="986" y="721" width="1" height="6"/>
<rect x="988" y="721" width="1" height="6"/>
<rect x="989" y="721" width="1" height="6"/>
<rect x="990" y="721" width="1" height="6"/>
<rect x="991" y="721" width="1" height="6"/>
<rect x="993" y="721" width="1" height="6"/>
<rect x="994" y="721" width="1" height="6"/>
<rect x="995" y="721" width="1" height="6"/>
<rect x="997" y="721" width="1" height="6"/>
<rect x="998" y="721" width="1" height="6"/>
<rect x="999" y="721" width="1" height="6"/>
<rect x="1000" y="721" width="1" height="6"/>
<rect x="1002" y="721" width="1" height="6"/>
<rect x="1003" y="721" width="1" height="6"/>
<rect x="1004" y="721" width="1" height="6"/>
<rect x="1005" y="721" width="1" height="6"/>
<rect x="1007" y="721" width="1" height="6"/>
</g>
<g font-size="14.3" fill="#000" text-anchor="end">
<text x="30.8" y="727.4">0</text>
<text x="30.8" y="631.4">0,01</text>
<text x="30.8" y="536.4">0,02</text>
<text x="30.8" y="441.4">0,03</text>
<text x="30.8" y="345.4">0,04</text>
<text x="30.8" y="250.4">0,05</text>
<text x="30.8" y="155.4">0,06</text>
<text x="30.8" y="60.4">0,07</text>
</g>
<g font-size="13.9" fill="#000" text-anchor="end">
<text transform="translate(52.16,733.5) rotate(-90)">1</text>
<text transform="translate(72.58,733.5) rotate(-90)">17</text>
<text transform="translate(93.00,733.5) rotate(-90)">33</text>
<text transform="translate(113.42,733.5) rotate(-90)">49</text>
<text transform="translate(133.83,733.5) rotate(-90)">65</text>
<text transform="translate(154.25,733.5) rotate(-90)">81</text>
<text transform="translate(174.67,733.5) rotate(-90)">97</text>
<text transform="translate(195.09,733.5) rotate(-90)">113</text>
<text transform="translate(215.51,733.5) rotate(-90)">129</text>
<text transform="translate(235.93,733.5) rotate(-90)">145</text>
<text transform="translate(256.35,733.5) rotate(-90)">161</text>
<text transform="translate(276.77,733.5) rotate(-90)">177</text>
<text transform="translate(297.19,733.5) rotate(-90)">193</text>
<text transform="translate(317.61,733.5) rotate(-90)">209</text>
<text transform="translate(338.03,733.5) rotate(-90)">225</text>
<text transform="translate(358.45,733.5) rotate(-90)">241</text>
<text transform="translate(378.87,733.5) rotate(-90)">257</text>
<text transform="translate(399.28,733.5) rotate(-90)">273</text>
<text transform="translate(419.70,733.5) rotate(-90)">289</text>
<text transform="translate(440.12,733.5) rotate(-90)">305</text>
<text transform="translate(460.54,733.5) rotate(-90)">321</text>
<text transform="translate(480.96,733.5) rotate(-90)">337</text>
<text transform="translate(501.38,733.5) rotate(-90)">353</text>
<text transform="translate(521.80,733.5) rotate(-90)">369</text>
<text transform="translate(542.22,733.5) rotate(-90)">385</text>
<text transform="translate(562.64,733.5) rotate(-90)">401</text>
<text transform="translate(583.06,733.5) rotate(-90)">417</text>
<text transform="translate(603.48,733.5) rotate(-90)">433</text>
<text transform="translate(623.90,733.5) rotate(-90)">449</text>
<text transform="translate(644.31,733.5) rotate(-90)">465</text>
<text transform="translate(664.73,733.5) rotate(-90)">481</text>
<text transform="translate(685.15,733.5) rotate(-90)">497</text>
<text transform="translate(705.57,733.5) rotate(-90)">513</text>
<text transform="translate(725.99,733.5) rotate(-90)">529</text>
<text transform="translate(746.41,733.5) rotate(-90)">545</text>
<text transform="translate(766.83,733.5) rotate(-90)">561</text>
<text transform="translate(787.25,733.5) rotate(-90)">577</text>
<text transform="translate(807.67,733.5) rotate(-90)">593</text>
<text transform="translate(828.09,733.5) rotate(-90)">609</text>
<text transform="translate(848.51,733.5) rotate(-90)">625</text>
<text transform="translate(868.93,733.5) rotate(-90)">641</text>
<text transform="translate(889.35,733.5) rotate(-90)">657</text>
<text transform="translate(909.76,733.5) rotate(-90)">673</text>
<text transform="translate(930.18,733.5) rotate(-90)">689</text>
<text transform="translate(950.60,733.5) rotate(-90)">705</text>
<text transform="translate(971.02,733.5) rotate(-90)">721</text>
<text transform="translate(991.44,733.5) rotate(-90)">737</text>
<text transform="translate(1011.86,733.5) rotate(-90)">753</text>
</g>
<text x="528.8" y="34.3" font-size="14.75" text-anchor="middle" fill="#000">MEDIA DESVIACIONES ACTIVOS VS MEDIA DESVIACION SP500</text>
<defs><clipPath id="plot"><rect x="46" y="40" width="963" height="690"/></clipPath></defs>
<g clip-path="url(#plot)">
<polyline points="46.6,653.0 47.2,625.0 52.4,525.0 55.0,430.0 55.0,394.9 57.6,380.5 59.0,380.8 60.2,417.1 64.2,407.9 66.1,411.9 68.8,427.8 71.4,409.0 73.7,433.0 77.9,407.9 78.2,383.1 80.5,370.3 82.5,392.9 83.8,368.1 85.7,351.8 85.7,340.0 88.3,260.9 90.3,292.3 91.6,315.1 96.2,326.2 97.5,340.0 98.2,370.1 100.8,413.2 103.4,422.3 104.9,436.7 107.3,394.9 109.2,357.0 109.9,340.0 110.6,313.2 112.5,310.6 114.5,292.3 114.5,267.4 115.8,263.3 117.8,277.9 119.0,279.2 119.7,298.8 121.7,307.9 123.6,323.6 124.3,340.0 124.9,383.1 126.9,406.9 128.8,383.1 130.6,340.0 132.5,294.9 136.0,340.0 137.7,392.9 140.0,377.9 141.7,350.4 143.0,357.0 143.5,340.0 145.2,283.1 146.9,279.9 149.8,305.3 152.4,328.9 152.9,360.9 153.9,340.0 155.6,296.2 156.6,288.1 157.6,302.7 159.6,292.3 160.9,318.4 163.5,321.7 165.7,314.5 166.2,340.0 166.5,407.9 168.7,387.0 170.3,364.2 173.9,379.2 175.2,398.8 177.2,422.3 178.2,434.1 179.6,422.3 183.1,425.6 183.7,431.5 185.7,436.7 188.3,413.2 190.0,411.2 190.0,411.0 191.6,420.2 192.6,400.6 193.9,377.0 197.6,365.0 200.4,387.5 202.4,349.6 203.5,337.2 205.7,347.0 207.0,373.1 208.3,399.2 210.2,404.5 211.9,413.6 214.2,382.3 215.5,361.1 216.8,386.2 217.4,413.6 219.8,423.4 221.4,413.0 223.7,418.9 224.6,395.3 225.0,356.1 225.5,330.0 226.8,235.0 228.6,157.0 230.5,192.3 231.2,213.2 234.4,240.0 234.4,267.7 235.7,289.9 238.3,316.0 239.7,306.9 242.0,335.0 242.3,349.6 243.6,373.1 244.6,388.8 248.2,397.9 249.4,413.6 250.1,439.4 251.4,449.2 252.7,443.3 254.0,477.3 256.0,485.8 257.3,444.6 258.2,425.0 258.6,414.9 260.6,407.1 262.1,416.2 263.2,388.8 265.5,384.9 267.1,401.9 269.1,430.0 269.7,444.6 272.3,481.2 274.9,481.2 276.9,453.8 279.5,425.0 280.2,404.5 281.5,388.1 283.0,401.2 284.1,400.6 286.0,413.6 286.7,444.6 288.6,448.5 290.0,425.0 290.6,395.3 291.7,378.4 294.3,375.1 295.6,343.1 297.1,373.1 297.8,401.9 299.5,430.0 300.4,456.4 302.6,459.6 303.7,466.8 305.0,467.5 306.9,475.3 308.9,479.2 309.9,474.4 311.5,473.4 313.5,479.2 315.4,459.0 317.8,436.8 318.7,477.3 319.4,496.9 320.9,496.9 322.6,468.1 324.6,487.7 326.6,513.9 328.5,502.1 332.2,496.2 335.7,500.8 337.6,477.3 339.5,457.0 340.6,423.6 342.0,419.7 343.9,407.9 345.9,356.3 348.5,354.4 350.2,376.6 352.4,401.4 354.4,418.4 355.9,440.0 357.0,450.7 359.6,463.8 361.2,466.1 364.2,446.8 366.1,452.0 368.1,471.6 369.4,487.3 370.7,499.0 373.7,497.1 375.3,510.8 377.9,522.5 379.2,508.2 381.2,491.2 383.1,483.6 385.5,489.9 387.3,508.2 388.6,515.4 389.9,502.9 391.2,489.9 394.2,483.4 395.5,469.0 397.5,459.8 398.8,442.8 399.9,435.0 399.9,418.4 400.4,405.3 401.7,407.3 402.7,428.9 404.9,440.0 405.3,442.8 406.6,458.5 409.0,471.6 410.6,505.6 412.5,492.5 414.5,487.3 416.4,501.6 418.1,502.3 419.4,490.5 421.7,491.8 423.6,506.2 425.6,496.4 428.6,482.3 430.2,489.9 431.5,499.0 433.0,500.3 434.7,491.8 436.7,501.6 438.6,523.9 440.6,525.2 441.9,513.4 443.6,508.2 445.8,513.4 447.1,529.1 447.8,551.1 450.4,557.7 452.4,551.1 454.3,531.5 455.0,525.2 455.6,487.3 456.9,467.7 457.6,460.5 459.6,461.1 460.5,448.1 461.3,435.0 461.5,413.2 462.6,401.1 464.8,404.0 466.8,418.4 468.7,427.6 471.1,422.3 472.6,430.2 473.9,440.0 475.6,445.4 477.2,439.6 478.5,437.6 480.5,439.6 482.4,448.1 483.7,461.1 484.8,479.4 487.0,470.3 489.0,459.8 490.0,459.8 491.1,467.3 492.6,467.3 493.9,474.7 495.2,471.2 496.8,470.6 498.1,454.9 499.8,446.0 501.1,461.4 502.8,469.9 505.7,469.2 507.0,473.2 507.6,501.4 508.9,515.7 511.6,524.9 513.5,537.3 514.8,537.3 515.9,532.7 516.8,513.1 517.7,500.7 519.8,500.7 521.4,509.2 524.6,519.6 526.6,536.6 528.5,524.9 529.9,509.2 530.8,501.4 532.1,522.3 533.8,528.8 535.1,528.1 536.4,502.0 539.0,509.2 541.6,520.3 543.6,521.6 545.5,508.6 547.5,508.6 549.5,527.5 552.5,524.9 553.8,534.7 555.3,519.6 557.3,509.2 559.2,521.6 561.9,522.3 563.8,531.4 565.8,534.7 567.1,522.3 569.0,498.8 571.7,487.6 573.6,502.7 574.9,505.9 576.6,525.5 578.9,505.3 580.2,483.1 581.5,456.8 584.7,487.0 586.7,504.0 590.0,506.6 591.9,492.2 593.9,485.7 595.6,492.2 596.9,510.5 598.7,517.7 600.4,507.9 602.4,484.4 604.3,470.6 605.6,460.8 607.6,470.6 609.2,477.1 611.5,475.1 612.6,465.3 613.5,439.2 614.4,419.3 616.8,424.2 618.0,437.9 620.0,451.0 621.3,452.3 622.6,444.4 624.3,452.3 625.9,467.9 627.5,483.6 630.5,481.7 632.2,488.9 633.5,508.6 635.7,505.3 637.6,514.4 640.0,510.5 641.3,518.0 642.9,525.1 645.2,510.4 647.8,512.7 650.5,524.5 652.0,526.4 653.3,511.4 654.4,503.3 657.0,510.1 659.0,519.2 660.6,529.0 662.5,529.7 664.2,525.1 667.4,528.4 669.4,516.6 670.7,513.4 672.9,516.6 674.2,511.4 676.6,511.4 677.9,504.9 679.9,489.2 681.5,481.4 682.5,463.1 683.4,457.2 685.5,460.4 687.0,470.9 688.6,482.0 690.3,479.4 691.6,473.5 692.9,478.1 694.2,485.3 695.5,490.5 697.5,487.2 699.5,487.9 701.4,484.6 702.7,496.4 704.3,495.7 706.0,485.9 708.6,485.9 709.2,481.4 709.9,480.1 710.6,467.0 711.2,450.0 711.6,426.9 713.2,407.3 714.2,391.6 716.4,390.9 718.4,387.0 720.8,397.5 722.6,389.0 723.6,368.1 724.7,355.0 724.7,353.9 725.5,346.0 727.2,356.5 728.2,361.5 729.9,369.4 732.1,367.4 733.4,387.7 734.7,409.9 737.7,435.4 739.3,411.2 740.6,392.9 741.9,387.0 743.9,394.2 745.2,404.6 747.1,404.6 748.2,374.6 749.5,355.0 749.5,349.9 750.4,339.5 751.7,349.9 752.6,376.6 755.0,361.5 757.3,348.6 758.2,317.3 759.6,284.6 760.4,262.0 760.7,205.0 761.0,177.0 761.3,166.0 761.6,143.0 761.8,128.5 762.4,120.0 762.9,128.5 764.2,143.3 765.2,153.8 766.4,166.0 768.5,185.0 771.8,209.0 774.4,268.0 775.5,285.4 777.0,316.8 778.6,329.4 780.7,335.6 781.7,331.4 784.3,335.6 785.4,326.2 787.5,323.1 789.6,339.8 791.1,322.0 792.7,301.1 795.3,294.3 796.4,309.5 797.9,319.9 799.0,322.0 800.0,333.5 801.1,348.2 801.8,355.0 802.4,369.6 804.4,380.1 805.7,386.6 806.3,402.3 807.6,423.2 809.0,438.9 810.2,447.4 811.6,423.2 812.9,395.7 815.5,389.9 817.2,412.7 819.4,423.2 821.4,433.6 822.0,436.5 824.0,441.8 825.5,450.9 827.2,450.9 828.1,447.0 828.9,436.5 829.9,435.9 831.8,439.1 833.8,444.4 835.1,473.1 836.4,492.7 838.4,506.4 839.9,503.2 842.0,492.1 844.6,500.6 845.5,479.6 846.8,456.1 848.1,439.1 848.8,437.2 850.1,452.2 852.7,460.7 854.7,443.1 857.3,435.5 859.2,440.4 860.6,456.1 862.1,469.2 863.8,476.4 865.1,456.1 866.0,436.5 867.8,421.2 869.0,434.9 869.7,443.1 871.7,460.1 873.6,470.5 874.9,467.9 876.5,457.4 877.8,469.2 879.5,473.1 881.5,479.6 883.0,492.7 884.3,501.2 887.4,497.9 888.6,484.9 890.4,467.9 891.9,464.0 893.9,461.4 894.5,449.6 895.6,438.5 896.9,445.0 898.7,445.0 900.4,453.5 902.6,454.2 904.3,462.7 905.6,479.6 908.2,486.2 910.0,498.6 910.9,498.6 912.8,508.4 914.8,524.1 916.1,508.4 917.4,482.3 918.7,464.6 920.0,482.3 922.0,494.0 923.5,496.6 925.9,494.0 926.9,482.3 927.2,461.4 929.2,452.2 930.9,443.1 932.4,421.9 933.7,433.6 935.0,449.6 936.4,469.2 937.6,481.0 940.0,486.2 942.0,470.3 942.9,448.1 944.2,435.7 945.5,436.4 946.8,445.5 947.4,424.6 948.8,405.0 949.4,393.4 950.7,379.0 952.7,388.2 954.2,412.4 955.3,380.3 956.6,347.7 957.6,334.6 958.5,325.2 959.9,339.2 962.5,340.5 964.2,345.1 965.1,367.3 966.0,390.8 967.3,403.9 968.6,396.0 969.6,406.5 970.3,419.4 972.3,427.2 973.6,439.0 974.9,457.3 976.2,472.9 977.8,482.8 979.1,467.7 980.4,465.1 982.1,466.4 983.4,474.2 984.7,488.6 986.0,497.8 987.3,503.1 989.2,497.8 990.8,500.4 991.9,509.6 992.9,516.8 995.1,514.2 997.1,504.4 999.0,503.7 1000.4,501.8 1001.3,509.6 1003.0,510.9 1005.6,517.4 1007.3,515.5" fill="none" stroke="#4a7ebb" stroke-width="3.1" stroke-linejoin="round" stroke-linecap="round"/>
<polyline points="46.8,687.5 49.8,600.0 50.5,593.0 51.5,588.4 55.0,592.3 57.6,564.2 59.6,555.3 60.9,568.1 62.9,578.6 64.2,603.4 66.8,611.2 66.8,613.1 68.1,626.1 69.4,637.9 72.7,635.3 74.2,630.0 75.9,615.7 76.6,608.6 77.9,593.0 80.8,588.8 81.8,568.1 82.9,545.9 83.8,530.9 86.4,530.2 87.0,525.0 87.7,478.4 88.7,477.0 91.6,479.6 92.0,492.7 94.6,501.2 96.8,456.1 97.5,436.5 99.5,434.6 100.4,437.8 101.7,454.8 104.0,469.2 105.3,484.9 106.6,508.4 106.9,534.1 108.6,528.9 110.6,507.1 112.1,518.9 114.7,524.1 115.8,530.0 115.8,533.5 117.8,538.1 118.8,551.1 119.5,575.3 121.0,576.6 123.6,554.4 124.7,574.6 126.5,593.0 129.5,571.0 132.1,581.2 133.4,595.6 134.7,612.8 136.0,606.7 138.7,607.6 140.6,599.5 141.7,598.2 142.6,570.7 143.9,551.1 145.2,536.1 146.5,540.7 147.4,525.0 148.4,505.8 151.1,516.2 152.4,544.6 155.0,568.1 156.9,596.6 159.2,564.2 161.5,540.7 163.5,532.8 164.8,492.7 166.5,475.1 168.7,488.8 170.7,513.6 171.3,544.6 172.2,557.7 173.9,574.6 176.6,574.6 177.8,579.9 179.8,600.1 180.5,577.3 181.8,555.0 183.1,542.0 184.4,536.8 185.7,523.4 188.3,521.5 190.7,464.2 192.3,439.4 193.7,460.3 194.6,432.8 195.2,425.0 198.5,394.0 200.4,438.1 201.8,477.3 202.8,496.9 204.4,492.9 206.6,474.0 207.6,490.3 208.3,539.6 210.2,556.6 212.9,567.7 215.5,549.4 218.1,555.3 220.3,568.4 221.4,593.2 223.7,598.4 225.3,589.2 227.0,586.6 229.2,571.6 231.2,583.4 233.8,580.8 235.5,563.8 239.0,565.7 242.5,556.6 243.6,572.3 244.9,589.2 247.5,588.6 249.4,597.8 251.4,590.6 252.7,563.1 253.4,539.6 255.3,529.1 256.6,516.5 257.3,477.3 258.6,458.3 259.9,474.6 261.9,477.3 262.9,451.1 263.8,435.2 265.5,440.7 266.4,464.2 267.8,492.9 269.1,516.5 270.4,533.1 271.3,554.0 274.9,559.2 277.6,571.0 279.9,578.1 281.5,598.4 282.5,610.2 283.8,610.2 286.0,593.2 288.0,563.1 289.3,533.1 290.0,495.6 291.9,487.7 293.2,468.1 294.5,439.1 296.1,460.3 297.4,479.9 298.4,506.0 300.4,521.7 303.0,521.7 303.7,546.1 305.0,567.0 307.6,581.4 309.6,582.7 311.5,590.6 313.5,590.6 314.8,599.7 317.4,601.0 318.7,604.3 320.0,599.7 321.3,578.8 322.6,554.6 324.6,572.3 326.6,585.3 328.8,595.1 330.9,582.7 332.4,555.9 336.4,555.0 338.3,533.1 339.2,520.0 340.0,515.2 341.3,516.0 342.6,548.5 344.6,532.8 345.2,474.2 345.9,435.0 346.5,395.5 348.5,401.4 349.8,411.9 351.8,407.9 353.1,424.9 354.4,461.1 355.7,476.8 357.6,470.3 359.6,441.5 360.9,461.1 361.9,452.0 362.9,435.0 363.5,417.1 364.8,421.0 365.5,435.0 366.1,461.1 367.4,493.8 368.8,512.1 370.1,518.6 371.4,531.7 371.4,533.5 373.3,534.8 376.6,545.2 378.6,536.8 379.2,521.2 381.6,521.2 382.5,489.2 383.8,508.2 385.1,519.9 386.4,551.1 388.6,577.9 390.3,557.7 391.6,531.5 391.6,518.6 392.5,504.2 394.2,516.0 394.9,525.0 396.4,555.0 397.5,545.9 400.1,545.2 401.4,564.2 402.7,571.4 404.0,561.6 405.3,546.6 407.3,564.2 409.2,583.8 411.2,605.7 413.8,620.0 416.4,629.2 418.8,635.1 420.4,625.3 422.3,622.0 423.9,624.6 425.6,612.2 427.3,603.1 428.6,592.0 430.2,608.3 432.1,616.1 433.8,624.0 434.7,632.5 436.7,635.1 438.3,625.9 440.0,634.4 441.9,636.8 443.5,630.5 444.5,624.0 446.5,616.1 447.8,624.0 448.4,634.4 450.4,641.0 451.7,647.5 452.6,657.3 455.0,659.9 456.0,646.2 456.9,629.2 457.6,618.1 459.6,612.9 460.5,605.7 461.8,603.7 462.6,621.4 464.8,618.1 466.5,601.1 468.1,613.5 469.4,615.5 471.7,604.1 473.3,613.5 474.6,625.3 475.6,638.4 477.9,638.4 479.6,625.9 481.1,623.3 483.1,619.4 484.4,613.5 485.7,600.5 487.6,588.4 490.0,598.2 491.3,612.3 493.3,626.6 494.6,631.6 496.5,626.6 497.8,622.7 498.5,599.2 499.4,567.8 501.5,562.9 502.4,579.6 503.7,597.9 505.7,607.0 507.0,618.8 508.3,629.9 510.6,630.6 511.6,622.7 512.5,618.1 514.2,625.3 516.8,620.4 518.5,625.3 519.8,634.5 521.6,641.7 523.3,633.2 524.6,625.3 525.5,624.7 526.9,634.5 528.5,626.6 530.5,619.1 532.1,625.3 533.8,632.5 535.1,622.7 536.4,612.9 538.1,624.0 539.4,631.2 541.6,635.1 543.6,636.4 545.5,626.0 547.2,629.2 548.1,642.3 549.9,652.8 551.4,656.0 553.8,652.8 555.3,638.4 556.9,629.2 558.6,631.2 560.6,618.8 562.1,607.3 563.4,618.8 565.5,616.2 567.1,601.8 568.4,598.1 570.8,602.5 571.7,616.2 573.0,641.0 575.6,643.6 577.3,634.5 579.5,626.4 581.5,629.2 583.0,631.9 586.0,632.5 587.4,641.0 588.6,647.5 590.6,641.7 592.6,647.5 595.6,654.7 597.4,650.2 599.5,645.6 600.8,633.2 602.4,622.1 604.3,633.2 607.6,631.9 609.6,635.8 611.8,630.6 613.5,612.3 614.4,606.0 616.5,604.4 618.0,612.3 620.0,612.9 621.7,624.0 623.3,631.2 626.2,631.2 627.5,624.0 629.5,628.0 631.1,634.5 632.4,646.2 633.7,644.9 635.3,640.4 637.6,647.5 639.0,640.4 640.0,639.7 641.3,647.0 643.9,650.3 647.2,655.5 649.1,656.2 650.2,653.6 652.0,658.8 653.1,639.2 653.7,619.6 655.7,597.5 657.6,596.2 659.3,591.0 660.6,600.8 662.9,595.5 664.8,596.2 665.9,608.0 667.4,614.5 668.5,628.8 670.3,640.5 672.4,640.5 674.6,645.1 676.6,643.8 677.9,635.3 678.5,632.7 679.2,615.7 680.5,585.7 681.5,566.1 682.5,549.8 683.4,575.3 685.1,579.2 687.0,592.3 688.6,604.0 690.3,592.3 691.6,574.0 692.9,572.0 693.8,579.9 695.5,573.3 697.5,568.8 699.5,562.2 700.8,549.1 702.7,560.9 705.1,560.2 706.0,572.7 707.3,590.3 709.0,592.3 709.9,581.8 710.6,566.1 711.2,523.2 713.2,506.2 714.5,498.1 716.4,508.8 718.4,518.0 719.5,541.5 720.4,545.2 722.6,547.8 723.6,557.0 724.7,564.2 725.6,553.1 727.5,557.0 728.9,551.8 730.8,545.9 732.1,558.3 733.4,574.0 735.4,579.2 737.4,575.3 738.6,581.8 740.0,566.1 741.7,553.1 742.6,533.6 743.6,523.8 745.2,538.9 746.5,559.6 747.4,576.6 748.5,585.1 750.8,584.4 751.7,592.3 752.6,606.0 753.7,597.5 755.0,587.0 756.6,587.0 757.9,596.8 758.6,572.7 759.2,528.4 759.6,489.2 760.2,450.0 760.9,355.0 761.2,265.0 761.9,170.0 762.5,155.0 764.0,175.0 766.4,210.5 768.0,185.0 769.6,163.5 770.4,170.0 771.7,209.2 773.3,270.0 774.4,355.0 775.2,381.1 776.5,396.8 778.2,401.4 779.5,384.4 781.1,400.7 783.7,429.5 785.0,407.3 786.4,381.1 786.4,355.0 787.5,331.4 789.0,329.4 789.6,306.4 790.1,288.6 792.4,286.0 793.7,290.7 794.5,316.8 795.3,337.7 796.4,355.0 796.5,389.2 797.2,408.8 799.8,428.4 800.5,440.4 802.4,457.4 804.4,460.1 805.4,461.4 806.3,482.3 807.6,508.4 809.0,520.2 810.6,527.4 811.6,514.9 812.5,469.2 813.5,435.2 815.5,441.8 816.1,462.7 817.4,482.3 819.4,503.2 820.3,518.9 820.7,535.7 821.4,552.7 823.7,554.6 825.5,561.8 827.2,551.4 829.2,540.2 831.8,544.8 834.4,533.1 835.5,552.7 836.4,571.0 838.6,585.3 840.3,604.9 841.6,615.4 842.9,610.2 844.6,613.4 845.9,598.4 847.5,572.3 848.5,558.9 850.4,569.0 852.1,565.7 853.8,559.9 856.6,561.2 858.0,576.2 860.6,590.6 862.5,598.4 863.8,605.6 864.5,572.3 866.0,546.1 867.4,507.8 869.0,511.0 870.4,511.0 871.7,533.1 873.6,548.8 874.9,533.1 875.6,511.0 876.5,499.2 878.2,495.3 878.9,486.8 879.9,495.3 880.8,503.2 882.5,522.1 884.7,526.0 886.0,527.2 887.0,539.6 888.0,543.5 890.0,544.8 891.3,559.2 893.9,569.0 895.2,578.8 896.5,588.0 896.5,595.5 899.1,589.6 903.7,598.8 905.6,589.6 907.6,604.0 909.2,613.1 911.5,611.8 913.5,621.0 914.8,619.6 916.1,606.6 917.8,590.2 919.4,607.9 921.7,609.9 923.9,606.6 926.5,594.8 927.5,609.2 928.8,623.6 930.1,617.7 931.8,615.7 933.7,619.6 935.7,634.7 937.0,626.2 937.9,602.7 938.7,594.2 940.0,593.5 940.9,599.4 941.6,581.1 942.5,561.5 944.2,543.6 945.5,555.3 946.8,571.0 947.4,529.2 948.5,503.1 949.0,470.3 950.3,446.2 952.0,466.4 953.3,478.2 954.6,488.0 956.6,483.4 958.1,480.8 959.5,483.4 960.5,459.9 961.8,441.6 963.4,428.5 964.4,441.6 965.7,466.4 967.7,480.1 968.6,463.8 969.6,457.3 972.9,462.5 973.6,478.2 974.6,493.9 974.9,509.6 976.2,529.2 977.2,544.9 978.8,556.6 981.4,561.2 982.7,571.0 984.0,584.1 984.3,594.2 986.0,607.3 986.9,617.7 987.7,628.8 989.9,626.2 991.2,623.6 992.5,626.2 993.8,623.0 995.1,621.6 997.1,622.3 998.8,621.0 999.5,607.3 1000.8,590.3 1002.1,572.6 1004.3,573.3 1006.9,571.3" fill="none" stroke="#be4b48" stroke-width="3.1" stroke-linejoin="round" stroke-linecap="round"/>
</g>
<line x1="1018.5" y1="364.5" x2="1049" y2="364.5" stroke="#4a7ebb" stroke-width="3" stroke-linecap="round"/>
<line x1="1018.5" y1="393.5" x2="1049" y2="393.5" stroke="#be4b48" stroke-width="3" stroke-linecap="round"/>
<g font-size="13.25" fill="#000"><text x="1053.4" y="368.3">MEDIA CARTERA</text><text x="1053.4" y="397.5">SP500</text></g>
</svg></body></html>
